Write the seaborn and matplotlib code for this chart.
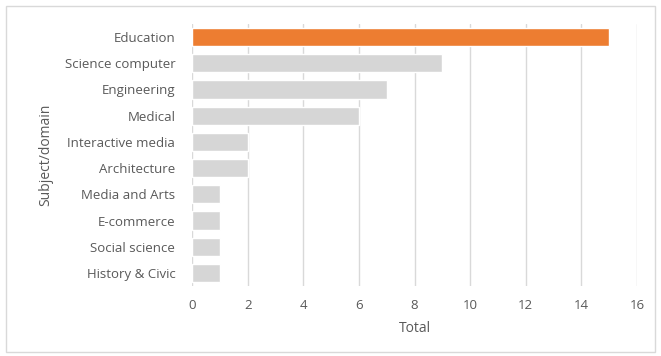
import matplotlib
matplotlib.use("Agg")
import matplotlib.pyplot as plt
import seaborn as sns
import pandas as pd
from matplotlib.patches import Rectangle

subjects = ["Education", "Science computer", "Engineering", "Medical",
            "Interactive media", "Architecture", "Media and Arts",
            "E-commerce", "Social science", "History & Civic"]
totals = [15, 9, 7, 6, 2, 2, 1, 1, 1, 1]
x_ticks = [0, 2, 4, 6, 8, 10, 12, 14, 16]

highlight = "#ED7D31"
base = "#D6D6D6"
text_col = "#595959"

sns.set_theme(style="white")
plt.rcParams["font.family"] = ["Open Sans", "DejaVu Sans"]

df = pd.DataFrame({"Subject/domain": subjects, "Total": totals})
palette = {s: (highlight if i == 0 else base) for i, s in enumerate(subjects)}

fig = plt.figure(figsize=(6.61, 3.56), dpi=100)
ax = fig.add_axes([0.2905, 0.1966, 0.6732, 0.736])

sns.barplot(data=df, x="Total", y="Subject/domain", hue="Subject/domain",
            palette=palette, legend=False, width=0.7, saturation=1,
            ax=ax, zorder=3)

ax.set_xlim(0, 16)
ax.set_xticks(x_ticks)
ax.set_ylim(9.5, -0.5)
ax.grid(axis="x", color="#D9D9D9", linewidth=1, zorder=0)
ax.grid(axis="y", visible=False)
for side in ["top", "right", "bottom", "left"]:
    ax.spines[side].set_visible(False)

ax.tick_params(axis="both", length=0, labelsize=9.5, labelcolor=text_col)
ax.tick_params(axis="y", pad=12)
ax.tick_params(axis="x", pad=9)
ax.set_xlabel("Total", fontsize=10, color=text_col, labelpad=7)
ax.set_ylabel("Subject/domain", fontsize=10, color=text_col, labelpad=8)

# light frame around the whole chart area
fig.patches.append(Rectangle((6 / 661, 4 / 356), 649 / 661, 346 / 356,
                             transform=fig.transFigure, fill=False,
                             edgecolor="#D9D9D9", linewidth=1))

fig.savefig("out.png", dpi=100)
